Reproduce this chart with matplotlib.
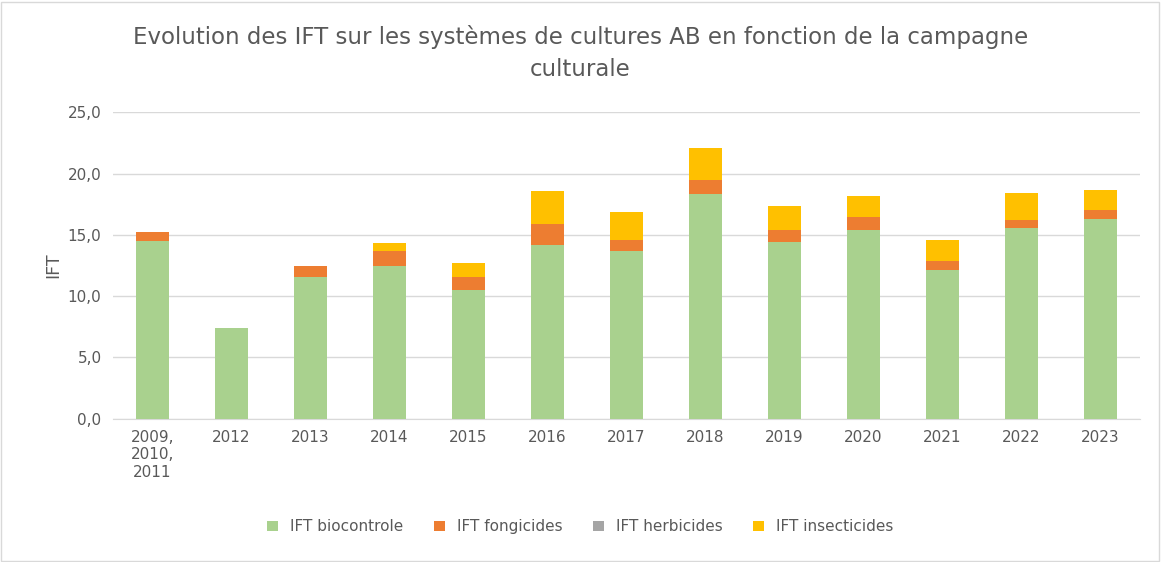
import matplotlib
matplotlib.use("Agg")
import matplotlib.pyplot as plt
from matplotlib.patches import Rectangle
import numpy as np

categories = ["2009,\n2010,\n2011", "2012", "2013", "2014", "2015", "2016", "2017", "2018", "2019", "2020", "2021", "2022", "2023"]
biocontrole = [14.5, 7.4, 11.6, 12.5, 10.5, 14.2, 13.7, 18.3, 14.4, 15.4, 12.1, 15.6, 16.3]
fongicides = [0.7, 0.0, 0.9, 1.2, 1.1, 1.7, 0.9, 1.2, 1.0, 1.1, 0.8, 0.6, 0.7]
herbicides = [0.0] * 13
insecticides = [0.0, 0.0, 0.0, 0.6, 1.1, 2.7, 2.3, 2.6, 2.0, 1.7, 1.7, 2.2, 1.7]

fig = plt.figure(figsize=(11.61, 5.62), dpi=100)
fig.patches.append(Rectangle((0.001, 0.002), 0.997, 0.995, transform=fig.transFigure,
                             fill=False, edgecolor="#D9D9D9", linewidth=1))
ax = fig.add_axes([0.097, 0.255, 0.885, 0.545])
x = np.arange(len(categories))
w = 0.42
b1 = np.array(biocontrole); b2 = b1 + np.array(fongicides); b3 = b2 + np.array(herbicides)
ax.bar(x, biocontrole, w, color="#A9D18E", label="IFT biocontrole", zorder=3)
ax.bar(x, fongicides, w, bottom=b1, color="#ED7D31", label="IFT fongicides", zorder=3)
ax.bar(x, herbicides, w, bottom=b2, color="#A5A5A5", label="IFT herbicides", zorder=3)
ax.bar(x, insecticides, w, bottom=b3, color="#FFC000", label="IFT insecticides", zorder=3)

ax.set_ylim(0, 25)
ax.set_xlim(-0.5, len(categories) - 0.5)
ax.set_yticks(np.arange(0, 26, 5))
ax.set_yticklabels([f"{v:.1f}".replace(".", ",") for v in np.arange(0, 26, 5)])
ax.set_xticks(x)
ax.set_xticklabels(categories, va="top")
ax.grid(axis="y", color="#D9D9D9", linewidth=1, zorder=0)
for s in ["top", "right", "left"]:
    ax.spines[s].set_visible(False)
ax.spines["bottom"].set_color("#D9D9D9")
ax.tick_params(length=0, labelsize=11, colors="#595959", pad=8)
ax.set_ylabel("IFT", fontsize=12.5, color="#595959")
fig.text(0.5, 0.955, "Evolution des IFT sur les systèmes de cultures AB en fonction de la campagne\nculturale",
         ha="center", va="top", fontsize=16.5, color="#595959", linespacing=1.5)
fig.legend(loc="lower center", ncol=4, frameon=False, fontsize=11, bbox_to_anchor=(0.5, 0.025),
           handlelength=0.7, handleheight=0.7, columnspacing=2.0, labelcolor="#595959")
fig.savefig("out.png", dpi=100)
